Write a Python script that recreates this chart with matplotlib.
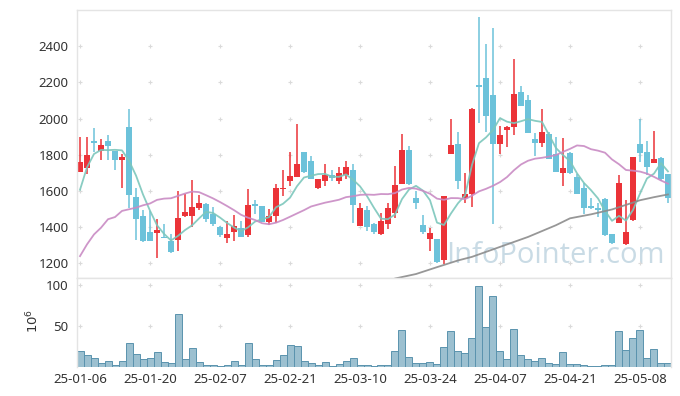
import numpy as np
import matplotlib
matplotlib.use('Agg')
import matplotlib.pyplot as plt

plt.rcParams['font.family'] = ['Noto Sans', 'DejaVu Sans']

# ---- data ----
opens = [1705, 1724, 1878, 1822, 1878, 1818, 1768, 1955, 1567, 1461,
         1374, 1367, 1345, 1322, 1330, 1463, 1463, 1507, 1526, 1470,
         1400, 1341, 1374, 1394, 1355, 1526, 1517, 1430, 1461, 1609,
         1656, 1674, 1817, 1767, 1613, 1656, 1689, 1652, 1689, 1717,
         1405, 1494, 1417, 1363, 1418, 1480, 1637, 1826, 1559, 1411,
         1335, 1331, 1220, 1804, 1859, 1559, 1583, 2185, 2223, 2128,
         1859, 1937, 1952, 2146, 2104, 1887, 1863, 1915, 1804, 1696,
         1809, 1674, 1618, 1517, 1504, 1554, 1363, 1420, 1304, 1437,
         1859, 1817, 1752, 1780, 1693]
highs = [1900, 1900, 1948, 1889, 1911, 1818, 1804, 2054, 1618, 1493,
         1489, 1443, 1415, 1359, 1600, 1585, 1659, 1576, 1531, 1511,
         1405, 1433, 1467, 1433, 1609, 1550, 1517, 1498, 1637, 1715,
         1817, 1967, 1817, 1791, 1665, 1748, 1715, 1730, 1767, 1748,
         1530, 1517, 1422, 1480, 1530, 1739, 1915, 1850, 1600, 1467,
         1396, 1331, 1572, 1998, 1924, 1696, 2058, 2563, 2411, 2498,
         1961, 1961, 2331, 2178, 2128, 1918, 2054, 1924, 1896, 1893,
         1815, 1693, 1641, 1559, 1530, 1559, 1363, 1687, 1550, 1789,
         1998, 1878, 1933, 1785, 1693]
lows = [1702, 1693, 1813, 1770, 1770, 1717, 1618, 1507, 1326, 1318,
        1322, 1226, 1338, 1257, 1270, 1455, 1400, 1493, 1428, 1405,
        1344, 1313, 1322, 1344, 1344, 1474, 1428, 1411, 1424, 1572,
        1628, 1674, 1696, 1665, 1609, 1628, 1656, 1637, 1665, 1424,
        1405, 1378, 1360, 1355, 1387, 1452, 1637, 1633, 1498, 1359,
        1270, 1202, 1196, 1804, 1609, 1530, 1511, 1975, 1925, 1415,
        1804, 1844, 1911, 2067, 1918, 1794, 1841, 1776, 1702, 1628,
        1695, 1581, 1470, 1498, 1455, 1350, 1307, 1420, 1300, 1433,
        1757, 1689, 1752, 1655, 1535]
closes = [1761, 1800, 1863, 1855, 1846, 1770, 1785, 1576, 1446, 1322,
          1322, 1383, 1338, 1263, 1448, 1483, 1511, 1531, 1446, 1418,
          1355, 1363, 1405, 1344, 1522, 1515, 1430, 1461, 1618, 1618,
          1683, 1748, 1702, 1665, 1665, 1689, 1670, 1698, 1733, 1520,
          1504, 1400, 1373, 1433, 1507, 1633, 1826, 1637, 1535, 1374,
          1368, 1207, 1572, 1855, 1655, 1581, 2054, 2174, 2013, 1859,
          1911, 1955, 2133, 2067, 1918, 1863, 1924, 1776, 1702, 1724,
          1699, 1585, 1507, 1504, 1496, 1355, 1309, 1643, 1374, 1789,
          1807, 1730, 1776, 1665, 1559]
volumes = [19.2, 15.1, 11.4, 5.3, 7.8, 2.9, 7.8, 29.8, 16.3, 10.2,
           11.4, 18.8, 6.5, 5.3, 64.1, 10.2, 23.7, 6.5, 2.9, 2.9,
           1.6, 2.9, 7.8, 2.9, 29.8, 10.2, 2.9, 2.9, 9.0, 15.1,
           27.3, 26.1, 7.8, 5.3, 2.9, 6.5, 1.6, 4.1, 6.9, 11.4,
           2.9, 2.9, 1.6, 2.9, 2.9, 20.0, 45.7, 12.7, 5.3, 5.3,
           6.5, 4.1, 24.9, 43.3, 20.0, 17.6, 35.9, 98.4, 48.2, 86.1,
           20.0, 10.2, 46.9, 15.1, 10.2, 7.8, 11.4, 5.3, 4.1, 18.8,
           4.1, 4.1, 2.9, 1.6, 1.6, 2.9, 2.9, 43.3, 21.2, 35.9,
           44.5, 11.4, 22.4, 5.3, 5.3]

# moving-average values read from the picture where history is not visible
ma5_head = [1606, 1730, 1804, 1826]
ma20_head = [1239, 1304, 1359, 1396, 1443, 1455, 1489, 1498, 1507, 1520,
             1530, 1550, 1557, 1559, 1572, 1585, 1596, 1593, 1576]
ma_long_idx = [44, 45, 48, 51, 54, 56, 60, 64, 68, 70, 73, 76, 79, 80, 82, 84]
ma_long_val = [1100, 1115, 1140, 1178, 1215, 1235, 1290, 1345, 1410, 1448,
               1470, 1497, 1535, 1548, 1565, 1580]

tick_labels = ['25-01-06', '25-01-20', '25-02-07', '25-02-21', '25-03-10',
               '25-03-24', '25-04-07', '25-04-21', '25-05-08']
price_ticks = [1200, 1400, 1600, 1800, 2000, 2200, 2400]
vol_ticks = [50, 100]

# ---- derived ----
n = len(closes)
x = np.arange(n)
c = np.array(closes, float)
ma5 = np.array(ma5_head + [c[i-4:i+1].mean() for i in range(4, n)])
ma20 = np.array(ma20_head + [c[i-19:i+1].mean() for i in range(19, n)])
tick_pos = np.arange(len(tick_labels)) * 10

RED = '#eb3338'
BLUE = '#6cc2da'
TXT = '#333333'
SPINE = '#e4e4e4'

fig = plt.figure(figsize=(6.8, 3.96), dpi=100)
ax = fig.add_axes([77/680, 118/396, 594/680, 268/396])
axv = fig.add_axes([77/680, 29/396, 594/680, 89/396])

# watermark
ax.text(0.805, 0.085, 'InfoPointer.com', transform=ax.transAxes,
        ha='center', va='center', fontsize=21, color='#c9dbe5',
        family=['Open Sans', 'DejaVu Sans'], zorder=0)

# grid crosses
gx, gy = np.meshgrid(tick_pos, price_ticks)
ax.scatter(gx.ravel(), gy.ravel(), marker='+', s=12, color='#dadada',
           linewidths=0.8, zorder=0.5)
gx2, gy2 = np.meshgrid(tick_pos, vol_ticks)
axv.scatter(gx2.ravel(), gy2.ravel(), marker='+', s=12, color='#dadada',
            linewidths=0.8, zorder=0.5)

# candles
for i in range(n):
    o, h, l, cl = opens[i], highs[i], lows[i], closes[i]
    col = RED if cl >= o else BLUE
    ax.vlines(i, l, h, color=col, lw=1.1, zorder=2)
    body = max(abs(cl - o), 7)
    bot = min(o, cl) if abs(cl - o) >= 7 else (o + cl) / 2 - 3.5
    ax.bar(i, body, bottom=bot, width=0.72, color=col, lw=0, zorder=2.1)

# moving averages
ax.plot(x, ma5, color='#7cc7bc', lw=1.3, alpha=0.9, zorder=3)
ax.plot(x, ma20, color='#c98bc4', lw=1.3, alpha=0.9, zorder=3)
ax.plot(ma_long_idx, ma_long_val, color='#8c8c8c', lw=1.3, alpha=0.9, zorder=3)

# volume
axv.bar(x, volumes, width=1.0, color='#9cc0d0', edgecolor='#5a93ae',
        linewidth=0.7, zorder=2)

for a in (ax, axv):
    a.set_xlim(-0.43, n - 1 + 0.43)
    for s in a.spines.values():
        s.set_color(SPINE)
        s.set_linewidth(1.0)
    a.tick_params(length=0, labelsize=9.5, colors=TXT, pad=6)

ax.set_ylim(1118, 2600)
ax.set_yticks(price_ticks)
ax.set_xticks(tick_pos)
ax.set_xticklabels([])

axv.set_ylim(0, 108.5)
axv.set_yticks(vol_ticks)
axv.set_xticks(tick_pos)
axv.set_xticklabels(tick_labels)
axv.tick_params(axis='x', pad=4)
axv.spines['bottom'].set_visible(False)

fig.text(33/680, 1 - 321/396, r'$10^6$', rotation=90, ha='center',
         va='center', fontsize=9.5, color=TXT)

fig.savefig('out.png', dpi=100)
